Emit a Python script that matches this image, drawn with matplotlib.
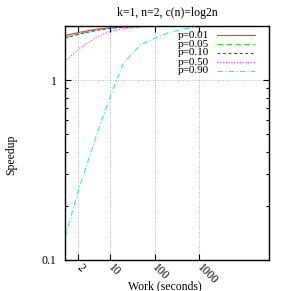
import numpy as np
import matplotlib
matplotlib.use("Agg")
from matplotlib import pyplot as plt
from matplotlib import ticker

plt.rcParams['font.family'] = ['Liberation Serif', 'DejaVu Serif']
plt.rcParams['font.size'] = 8.5

# work sizes (seconds) and speedup per p
work = [1, 2, 5, 10, 20, 50, 100, 200, 500, 1000, 2000, 5000, 10000, 20000]
p_labels = ["p=0.01", "p=0.05", "p=0.10", "p=0.50", "p=0.90"]
s_p001 = [1.77, 1.84, 1.92, 1.955, 1.977, 1.99, 1.995, 1.998, 1.999, 2.0, 2.0, 2.0, 2.0, 2.0]
s_p005 = [1.73, 1.81, 1.90, 1.945, 1.972, 1.988, 1.994, 1.997, 1.999, 2.0, 2.0, 2.0, 2.0, 2.0]
s_p010 = [1.71, 1.80, 1.89, 1.94, 1.97, 1.986, 1.993, 1.996, 1.998, 1.999, 2.0, 2.0, 2.0, 2.0]
s_p050 = [1.27, 1.49, 1.73, 1.87, 1.93, 1.97, 1.985, 1.992, 1.997, 1.998, 1.999, 2.0, 2.0, 2.0]
s_p090 = [0.134, 0.245, 0.49, 0.80, 1.24, 1.58, 1.71, 1.83, 1.94, 1.97, 1.985, 1.994, 1.997, 1.999]
series = [s_p001, s_p005, s_p010, s_p050, s_p090]

colors = ["#ff3030", "#30e030", "#3030ff", "#ff30ff", "#30e8e8"]
dashes = ["-", (0, (5, 3)), (0, (2.5, 2.5)), (0, (1, 1.5)), (0, (5, 2, 1, 2))]

fig = plt.figure(figsize=(2.91, 2.91), dpi=100)
ax = fig.add_axes([65/291, 1 - 260/291, 204/291, 234/291])

for s, lab, c, d in zip(series, p_labels, colors, dashes):
    ax.plot(work, s, color=c, linestyle=d, linewidth=0.8)

ax.set_xscale("log")
ax.set_yscale("log")
ax.set_xlim(1, 36000)
ax.set_ylim(0.1, 2.0)

ax.set_xticks([2, 10, 100, 1000])
ax.set_xticklabels(["2", "10", "100", "1000"], rotation=-45, ha="left",
                   va="center", rotation_mode="anchor")
ax.xaxis.set_minor_locator(ticker.NullLocator())
ax.set_yticks([0.1, 1])
ax.set_yticklabels(["0.1", "1"])
ax.yaxis.set_minor_locator(ticker.LogLocator(base=10, subs=np.arange(2, 10)))
ax.yaxis.set_minor_formatter(ticker.NullFormatter())

ax.tick_params(which="both", direction="in", top=True, right=True, width=0.8)
ax.tick_params(which="major", length=4.5, pad=4)
ax.tick_params(which="minor", length=2.5)
ax.tick_params(axis="y", pad=6)

ax.grid(True, which="major", linestyle=(0, (1, 2)), color="#999999", linewidth=0.6)
for sp in ax.spines.values():
    sp.set_linewidth(1.0)

ax.set_title("k=1, n=2, c(n)=log2n", fontsize=8.5, pad=7)
ax.set_xlabel("Work (seconds)", fontsize=8.5, va="top")
ax.xaxis.set_label_coords(0.49, -0.085)
ax.set_ylabel("Speedup", fontsize=8.5)
ax.yaxis.set_label_coords(-0.235, 0.45)

# gnuplot-style key: label right-aligned, sample line to its right
row_y = [0.9615, 0.923, 0.885, 0.846, 0.808]
for yy, lab, c, d in zip(row_y, p_labels, colors, dashes):
    ax.text(0.705, yy, lab, transform=ax.transAxes, ha="right", va="center",
            fontsize=8)
    ax.plot([0.745, 0.931], [yy, yy], transform=ax.transAxes, color=c,
            linestyle=d, linewidth=0.8, clip_on=False)

fig.savefig("out.png", dpi=100)
